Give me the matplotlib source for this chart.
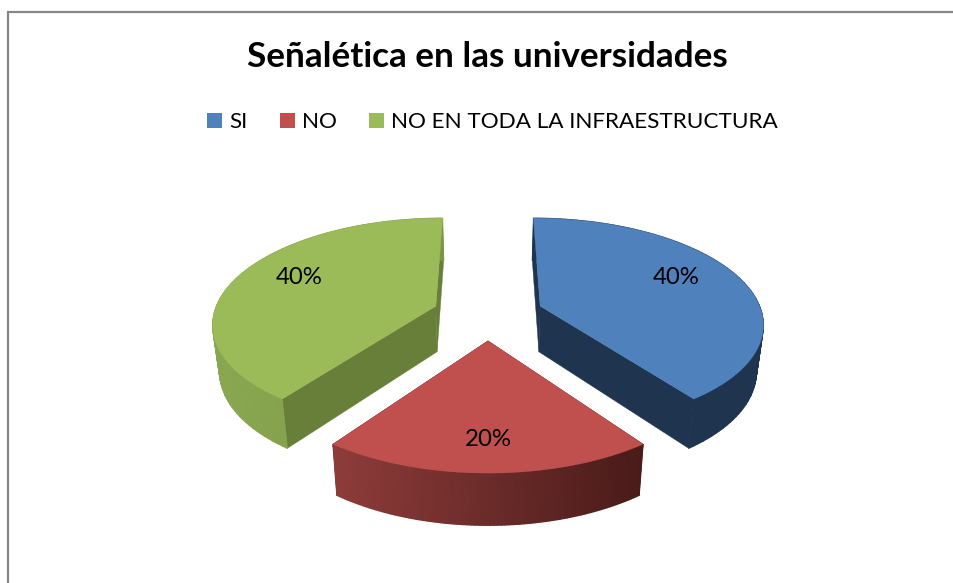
import numpy as np
import matplotlib
matplotlib.use('Agg')
import matplotlib.pyplot as plt
from matplotlib.patches import Polygon, Rectangle
from matplotlib.colors import LinearSegmentedColormap

title = 'Señalética en las universidades'
names = ['SI', 'NO', 'NO EN TODA LA INFRAESTRUCTURA']
values = [40, 20, 40]
colors = ['#4F81BD', '#C0504D', '#9BBB59']
wall_colors = ['#1F344F', '#4A1A18', '#687F3A']
rim_left = ['#1F344F', '#8E3C3A', '#8AA851']
rim_right = ['#1F344F', '#491B19', '#7A9545']

# pie geometry, pixels of the 954x583 picture
cx, cy = 488, 314
rx, ry = 222, 103.4
explode = 0.25
persp = 0.15
depth = 46
shrink = 0.975
label_r = [0.72, 0.78, 0.72]
label_turn = [-6, 0, 6]

plt.rcParams['font.family'] = ['Lato', 'DejaVu Sans']


def project(theta, r, mid):
    # theta clockwise from 12 o'clock, slice pushed out along mid
    X = explode*np.sin(mid) + r*np.sin(theta)
    U = explode*np.cos(mid) + r*np.cos(theta)
    s = 1/(1 + persp*U)
    return cx + rx*X*s, cy - ry*U*s


def lower(p):
    # bottom face sits a bit narrower, and deeper towards the front
    return cx + (p[0]-cx)*shrink, p[1] + depth + (p[1]-cy)*0.04


fig = plt.figure(figsize=(9.54, 5.83), dpi=100)
ax = fig.add_axes([0, 0, 1, 1])
ax.set_xlim(0, 954)
ax.set_ylim(583, 0)
ax.axis('off')

ax.add_patch(Rectangle((8.5, 11.5), 1100, 800, fc='white', ec='#868686', lw=1.6))

fractions = np.array(values)/sum(values)
edges = np.concatenate([[0], np.cumsum(fractions)])*2*np.pi

for i in range(len(values)):
    a0, a1 = edges[i], edges[i+1]
    mid = (a0+a1)/2
    thetas = np.linspace(a0, a1, 90)
    arc = [project(t, 1, mid) for t in thetas]
    apex = project(mid, 0, mid)

    # flat walls of the slice
    for t in (a0, a1):
        p = project(t, 1, mid)
        ax.add_patch(Polygon([p, apex, lower(apex), lower(p)],
                             fc=wall_colors[i], ec=wall_colors[i], lw=0.3, zorder=2))

    # outer rim with a left to right shade
    top = np.array(arc)
    bottom = np.array([lower(p) for p in arc])
    xs = np.vstack([top[:, 0], bottom[:, 0]])
    ys = np.vstack([top[:, 1], bottom[:, 1]])
    shade = (xs - xs.min())/(xs.max() - xs.min())
    cmap = LinearSegmentedColormap.from_list('rim', [rim_left[i], rim_right[i]])
    ax.pcolormesh(xs, ys, shade, shading='gouraud', cmap=cmap, vmin=0, vmax=1, zorder=3)

    ax.add_patch(Polygon(arc + [apex], fc=colors[i], ec=colors[i], lw=0.3, zorder=4))

    lx, ly = project(mid + np.radians(label_turn[i]), label_r[i], mid)
    ax.text(lx, ly, '%d%%' % round(fractions[i]*100), fontsize=17.3, color='black',
            ha='center', va='center', zorder=5)

ax.text(487, 57, title, fontsize=25.3, fontweight='bold', color='black',
        ha='center', va='center')

handles = [Rectangle((0, 0), 1, 1, fc=c, ec='none') for c in colors]
ax.legend(handles, names, loc='center', bbox_to_anchor=(492.5/954, 1-122.5/583),
          ncol=3, frameon=False, fontsize=16.2, handlelength=0.67, handleheight=0.67,
          handletextpad=0.3, columnspacing=1.45, borderpad=0, borderaxespad=0)

fig.savefig('out.png', dpi=100)
